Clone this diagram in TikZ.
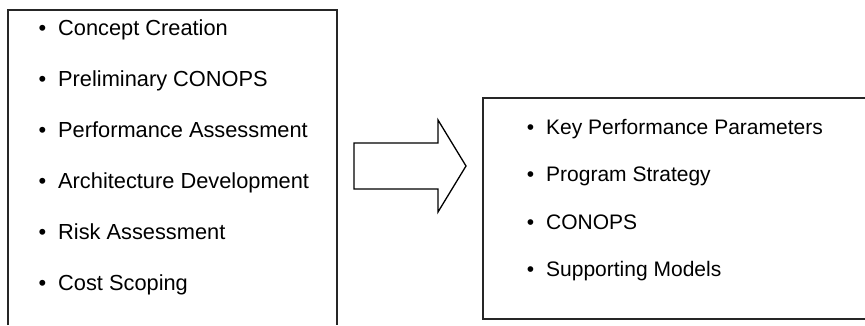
\documentclass[tikz,border=0pt]{standalone}
\usepackage{fontspec}
\setmainfont{Liberation Sans}
\begin{document}
\begin{tikzpicture}[x=1pt,y=-1pt,
  frame/.style={draw=black!85,line width=1.2pt},
  item/.style={anchor=base west,inner sep=0pt,font=\fontsize{21}{25}\selectfont},
  leftitem/.style={item,font=\fontsize{21.8}{26}\selectfont},
  blockarrow/.style={draw=black,line width=1.3pt,line join=miter,fill=white}]
\useasboundingbox (0,0) rectangle (865,325);

% left list frame, open at the bottom
\draw[frame] (8,325) -- (8,10) -- (337,10) -- (337,325);

% right list frame, open on the right
\draw[frame] (865,98) -- (483,98) -- (483,319) -- (865,319);

% left items
\foreach \n/\t [count=\i from 0] in {c1/Concept Creation,c2/Preliminary CONOPS,c3/Performance Assessment,c4/Architecture Development,c5/Risk Assessment,c6/Cost Scoping}
  \node[leftitem] (\n) at (58,35.5+50.9*\i) {\llap{\textbullet\hspace{12pt}}\t};

% right items
\foreach \n/\t [count=\i from 0] in {r1/Key Performance Parameters,r2/Program Strategy,r3/CONOPS,r4/Supporting Models}
  \node[item] (\n) at (546,134+47.6*\i) {\llap{\textbullet\hspace{12pt}}\t};

% block arrow between the frames
\draw[blockarrow] (354,143) -- (438,143) -- (438,120) -- (466,166) -- (438,212) -- (438,189) -- (354,189) -- cycle;
\end{tikzpicture}
\end{document}
